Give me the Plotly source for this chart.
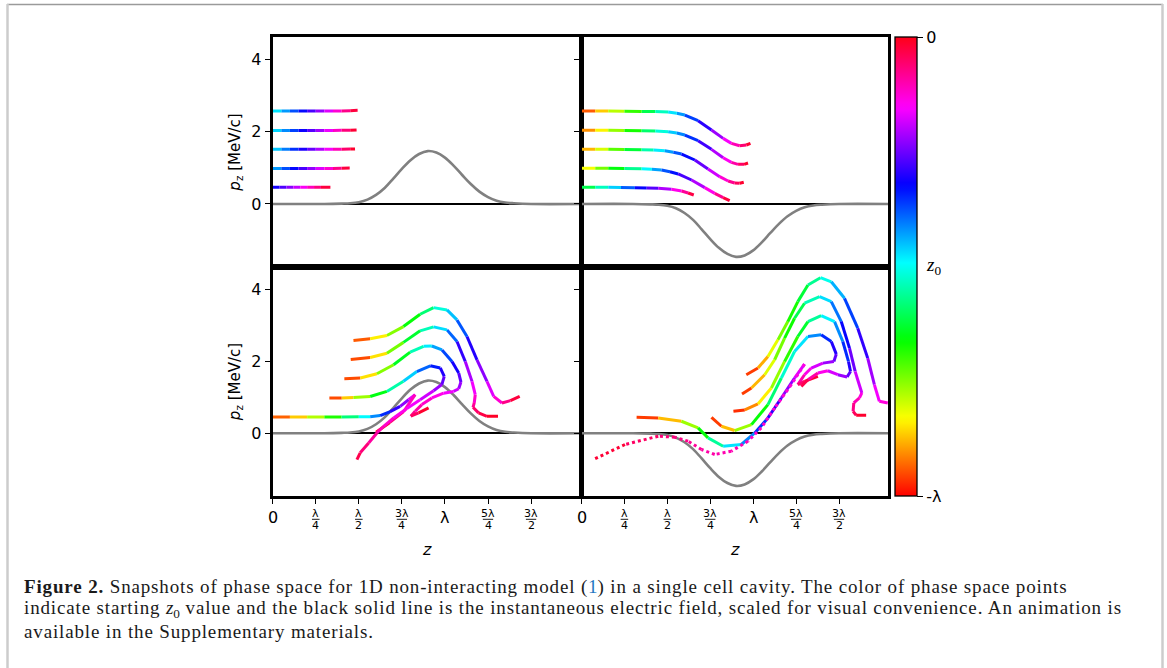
import plotly.graph_objects as go

W, H = 1167, 668

# ---------------- data (x in units of lambda, p_z in MeV/c, c = z0/lambda + 1) -------------
FIELD_X = [0.0, 0.3, 0.4, 0.45, 0.5, 0.55, 0.6, 0.65, 0.7, 0.75, 0.8, 0.85, 0.9, 0.95,
           1.0, 1.05, 1.1, 1.15, 1.2, 1.25, 1.3, 1.35, 1.4, 1.5, 1.79]
FIELD_E = [0.0, 0.0, 0.01, 0.02, 0.05, 0.12, 0.25, 0.44, 0.70, 0.97, 1.21, 1.38, 1.46, 1.42,
           1.28, 1.06, 0.80, 0.55, 0.34, 0.19, 0.09, 0.04, 0.02, 0.0, 0.0]
FIELD_SIGN = [1, -1, 1, -1]   # TL, TR, BL, BR

TL_046 = [(0, 0.46, 0.67), (0.04, 0.46, 0.71), (0.08, 0.46, 0.75), (0.12, 0.46, 0.79),
          (0.16, 0.46, 0.83), (0.2, 0.46, 0.87), (0.24, 0.46, 0.91), (0.28, 0.46, 0.95),
          (0.335, 0.46, 1.0)]
TL_098 = [(0, 0.98, 0.55), (0.05, 0.98, 0.6), (0.1, 0.98, 0.65), (0.15, 0.98, 0.7),
          (0.2, 0.98, 0.75), (0.25, 0.98, 0.8), (0.3, 0.98, 0.85), (0.35, 0.982, 0.9),
          (0.4, 0.985, 0.95), (0.447, 0.99, 1.0)]
TL_151 = [(0, 1.51, 0.52), (0.05, 1.51, 0.57), (0.1, 1.51, 0.62), (0.15, 1.51, 0.67),
          (0.2, 1.51, 0.72), (0.25, 1.51, 0.77), (0.3, 1.51, 0.82), (0.35, 1.51, 0.87),
          (0.4, 1.513, 0.92), (0.45, 1.516, 0.97), (0.478, 1.52, 1.0)]
TL_203 = [(0, 2.03, 0.51), (0.05, 2.03, 0.56), (0.1, 2.03, 0.61), (0.15, 2.03, 0.66),
          (0.2, 2.03, 0.71), (0.25, 2.03, 0.76), (0.3, 2.03, 0.81), (0.35, 2.03, 0.86),
          (0.4, 2.033, 0.91), (0.45, 2.038, 0.96), (0.487, 2.045, 1.0)]
TL_257 = [(0, 2.565, 0.5), (0.05, 2.565, 0.55), (0.1, 2.565, 0.6), (0.15, 2.565, 0.65),
          (0.2, 2.565, 0.7), (0.25, 2.565, 0.75), (0.3, 2.565, 0.8), (0.35, 2.566, 0.85),
          (0.4, 2.568, 0.9), (0.45, 2.574, 0.95), (0.493, 2.585, 1.0)]

TR_046 = [(0, 0.46, 0.35), (0.08, 0.46, 0.43), (0.156, 0.46, 0.5), (0.23, 0.458, 0.58),
          (0.311, 0.451, 0.65), (0.38, 0.444, 0.71), (0.447, 0.433, 0.76), (0.524, 0.405, 0.83),
          (0.583, 0.359, 0.89), (0.621, 0.304, 0.94), (0.654, 0.249, 1.0)]
TR_098 = [(0, 0.984, 0.13), (0.08, 0.984, 0.22), (0.156, 0.984, 0.3), (0.25, 0.982, 0.39),
          (0.35, 0.975, 0.48), (0.41, 0.96, 0.54), (0.466, 0.938, 0.6), (0.515, 0.89, 0.645),
          (0.563, 0.828, 0.69), (0.641, 0.662, 0.76), (0.718, 0.451, 0.83), (0.776, 0.294, 0.89),
          (0.825, 0.175, 0.95), (0.863, 0.092, 1.0)]
TR_151 = [(0, 1.508, 0.08), (0.08, 1.508, 0.16), (0.156, 1.508, 0.23), (0.25, 1.505, 0.33),
          (0.35, 1.499, 0.42), (0.42, 1.49, 0.49), (0.485, 1.471, 0.55), (0.535, 1.43, 0.6),
          (0.583, 1.379, 0.64), (0.66, 1.214, 0.71), (0.737, 0.966, 0.78), (0.805, 0.754, 0.85),
          (0.854, 0.635, 0.9), (0.892, 0.58, 0.94), (0.921, 0.57, 0.97), (0.945, 0.598, 1.0)]
TR_203 = [(0, 2.033, 0.06), (0.08, 2.033, 0.13), (0.156, 2.033, 0.2), (0.25, 2.03, 0.28),
          (0.35, 2.023, 0.37), (0.43, 2.013, 0.45), (0.505, 1.995, 0.52), (0.555, 1.96, 0.565),
          (0.602, 1.903, 0.61), (0.679, 1.747, 0.68), (0.757, 1.508, 0.76), (0.825, 1.278, 0.83),
          (0.873, 1.149, 0.88), (0.912, 1.094, 0.93), (0.947, 1.094, 0.97), (0.97, 1.131, 1.0)]
TR_257 = [(0, 2.566, 0.02), (0.08, 2.566, 0.1), (0.156, 2.566, 0.17), (0.25, 2.563, 0.26),
          (0.35, 2.556, 0.35), (0.43, 2.55, 0.43), (0.505, 2.538, 0.5), (0.555, 2.505, 0.55),
          (0.602, 2.455, 0.6), (0.679, 2.299, 0.67), (0.757, 2.041, 0.74), (0.825, 1.811, 0.82),
          (0.873, 1.674, 0.87), (0.921, 1.609, 0.92), (0.96, 1.628, 0.96), (0.984, 1.674, 1.0)]

BL_046 = [(0, 0.45, 0.03), (0.1, 0.45, 0.1), (0.2, 0.45, 0.17), (0.3, 0.45, 0.27), (0.4, 0.45, 0.37),
          (0.5, 0.455, 0.47), (0.566, 0.46, 0.55), (0.624, 0.49, 0.62), (0.682, 0.6, 0.68),
          (0.74, 0.747, 0.74), (0.789, 0.93, 0.8), (0.827, 1.07, 0.86), (0.76, 0.6, 0.92),
          (0.68, 0.3, 0.96), (0.60, 0.03, 1.0)]
BL_098 = [(0.329, 0.978, 0.0), (0.40, 0.98, 0.1), (0.469, 0.99, 0.17), (0.566, 1.02, 0.3),
          (0.663, 1.16, 0.4), (0.759, 1.44, 0.5), (0.837, 1.71, 0.58), (0.915, 1.87, 0.64),
          (0.973, 1.81, 0.68), (0.996, 1.577, 0.72), (0.982, 1.35, 0.76), (0.934, 1.18, 0.8),
          (0.856, 0.93, 0.83), (0.779, 0.684, 0.85), (0.702, 0.424, 0.87), (0.644, 0.193, 0.89),
          (0.605, 0.008, 0.9), (0.557, -0.27, 0.92), (0.508, -0.543, 0.95), (0.489, -0.73, 0.98)]
BL_151 = [(0.416, 1.51, 0.0), (0.509, 1.53, 0.1), (0.605, 1.65, 0.2), (0.702, 1.90, 0.3),
          (0.798, 2.25, 0.42), (0.876, 2.41, 0.5), (0.924, 2.42, 0.54), (0.983, 2.31, 0.6),
          (1.041, 1.99, 0.66), (1.08, 1.67, 0.72), (1.093, 1.42, 0.76), (1.08, 1.235, 0.8),
          (1.05, 1.16, 0.83), (0.992, 1.11, 0.85), (0.924, 0.98, 0.87), (0.866, 0.794, 0.89),
          (0.827, 0.61, 0.91), (0.802, 0.473, 0.93), (0.847, 0.565, 0.97), (0.905, 0.703, 1.0)]
BL_203 = [(0.453, 2.046, 0.0), (0.566, 2.10, 0.1), (0.663, 2.22, 0.2), (0.759, 2.52, 0.32),
          (0.856, 2.84, 0.42), (0.934, 2.95, 0.5), (1.012, 2.867, 0.56), (1.07, 2.544, 0.66),
          (1.118, 1.99, 0.76), (1.157, 1.438, 0.82), (1.176, 1.07, 0.86), (1.17, 0.84, 0.9),
          (1.163, 0.719, 0.93), (1.195, 0.564, 0.96), (1.244, 0.47, 0.98), (1.308, 0.47, 1.0)]
BL_257 = [(0.469, 2.571, 0.0), (0.566, 2.618, 0.12), (0.663, 2.71, 0.2), (0.759, 2.958, 0.3),
          (0.856, 3.30, 0.38), (0.934, 3.484, 0.45), (1.012, 3.42, 0.52), (1.07, 3.143, 0.58),
          (1.128, 2.682, 0.66), (1.186, 2.037, 0.74), (1.244, 1.438, 0.8), (1.283, 1.023, 0.85),
          (1.331, 0.84, 0.9), (1.38, 0.904, 0.95), (1.434, 1.023, 1.0)]

BR_046 = [(0.321, 0.443, 0.0), (0.447, 0.425, 0.08), (0.582, 0.333, 0.17), (0.679, 0.148, 0.3),
          (0.737, -0.128, 0.38), (0.825, -0.359, 0.5), (0.931, -0.312, 0.55), (1.009, 0.01, 0.62),
          (1.086, 0.425, 0.67), (1.164, 0.978, 0.74), (1.241, 1.531, 0.8), (1.299, 1.918, 0.85)]
BR_098 = [(0.757, 0.443, 0.0), (0.815, 0.194, 0.08), (0.892, 0.075, 0.17), (0.99, 0.24, 0.3),
          (1.086, 0.793, 0.38), (1.164, 1.531, 0.45), (1.241, 2.268, 0.5), (1.319, 2.683, 0.55),
          (1.396, 2.729, 0.62), (1.455, 2.544, 0.68), (1.484, 2.194, 0.72), (1.47, 1.991, 0.76),
          (1.406, 1.945, 0.8), (1.338, 1.808, 0.84), (1.299, 1.623, 0.88), (1.26, 1.346, 0.92),
          (1.299, 1.439, 0.96), (1.377, 1.577, 1.0)]
BR_151 = [(0.885, 0.609, 0.0), (0.951, 0.646, 0.06), (1.028, 0.812, 0.12), (1.106, 1.254, 0.2),
          (1.183, 1.991, 0.28), (1.26, 2.683, 0.34), (1.319, 3.097, 0.4), (1.396, 3.263, 0.48),
          (1.474, 3.097, 0.55), (1.522, 2.544, 0.62), (1.555, 1.991, 0.68), (1.567, 1.714, 0.72),
          (1.547, 1.558, 0.76), (1.493, 1.623, 0.8), (1.435, 1.733, 0.84), (1.377, 1.669, 0.88),
          (1.319, 1.485, 0.93), (1.28, 1.30, 1.0)]
BR_203 = [(0.935, 1.089, 0.0), (0.99, 1.255, 0.08), (1.067, 1.623, 0.16), (1.125, 2.038, 0.22),
          (1.183, 2.637, 0.3), (1.241, 3.19, 0.36), (1.299, 3.605, 0.42), (1.387, 3.788, 0.5),
          (1.455, 3.65, 0.56), (1.513, 3.097, 0.64), (1.561, 2.361, 0.72), (1.594, 1.714, 0.78),
          (1.633, 1.117, 0.85), (1.619, 0.979, 0.88), (1.586, 0.84, 0.91), (1.582, 0.608, 0.94),
          (1.6, 0.498, 0.97), (1.658, 0.498, 1.0)]
BR_257 = [(0.96, 1.623, 0.0), (1.028, 1.808, 0.08), (1.086, 2.129, 0.15), (1.144, 2.59, 0.22),
          (1.202, 3.097, 0.3), (1.26, 3.65, 0.35), (1.319, 4.11, 0.4), (1.392, 4.313, 0.47),
          (1.455, 4.20, 0.52), (1.532, 3.743, 0.6), (1.609, 2.914, 0.67), (1.667, 2.084, 0.75),
          (1.706, 1.346, 0.82), (1.735, 0.885, 0.86), (1.784, 0.84, 0.88)]
BR_DOT = [(1.299, 1.918, 0.86), (1.222, 1.346, 0.87), (1.125, 0.701, 0.88), (1.047, 0.148, 0.88),
          (0.97, -0.22, 0.89), (0.873, -0.497, 0.9), (0.776, -0.589, 0.9), (0.699, -0.451, 0.91),
          (0.621, -0.22, 0.92), (0.544, -0.11, 0.93), (0.447, -0.082, 0.94), (0.253, -0.312, 0.96),
          (0.078, -0.709, 1.0)]

PANELS = [
    ("x", "y", [TL_046, TL_098, TL_151, TL_203, TL_257], []),
    ("x2", "y2", [TR_046, TR_098, TR_151, TR_203, TR_257], []),
    ("x3", "y3", [BL_046, BL_098, BL_151, BL_203, BL_257], []),
    ("x4", "y4", [BR_046, BR_098, BR_151, BR_203, BR_257], [BR_DOT]),
]

XTICK_VALS = [0, 0.25, 0.5, 0.75, 1.0, 1.25, 1.5]
XTICK_NUM = ["0", "λ", "λ", "3λ", "λ", "5λ", "3λ"]
XTICK_DEN = ["", "4", "2", "4", "", "4", "2"]

# ---------------- colour map (matplotlib 'hsv') ----------------
HSV = [(0.0, (255, 0, 0)), (0.158730, (255, 239, 0)), (0.174603, (247, 255, 0)),
       (0.333333, (8, 255, 0)), (0.349206, (0, 255, 16)), (0.507937, (0, 255, 255)),
       (0.666667, (0, 16, 255)), (0.682540, (8, 0, 255)), (0.841270, (247, 0, 255)),
       (0.857143, (255, 0, 239)), (1.0, (255, 0, 24))]
COLORSCALE = [[s, "rgb(%d,%d,%d)" % c] for s, c in HSV]


def cmap(v):
    v = min(max(v, 0.0), 1.0)
    for (s0, c0), (s1, c1) in zip(HSV[:-1], HSV[1:]):
        if v <= s1:
            t = 0 if s1 == s0 else (v - s0) / (s1 - s0)
            return "rgb(%d,%d,%d)" % tuple(round(a + (b - a) * t) for a, b in zip(c0, c1))
    return "rgb(255,0,24)"


fig = go.Figure()

# field curves
for (xa, ya, _, _), sgn in zip(PANELS, FIELD_SIGN):
    fig.add_trace(go.Scatter(x=FIELD_X, y=[sgn * e for e in FIELD_E], mode="lines",
                             line=dict(color="#808080", width=2.6, shape="spline"),
                             xaxis=xa, yaxis=ya, hoverinfo="skip", showlegend=False))


def add_gradient(curves, xa, ya, dash="solid", width=3.0):
    groups = {}
    for pts in curves:
        for a, b in zip(pts[:-1], pts[1:]):
            col = cmap((a[2] + b[2]) / 2)
            gx, gy = groups.setdefault(col, ([], []))
            gx += [a[0], b[0], None]
            gy += [a[1], b[1], None]
    for col, (gx, gy) in groups.items():
        fig.add_trace(go.Scatter(x=gx, y=gy, mode="lines",
                                 line=dict(color=col, width=width, dash=dash),
                                 xaxis=xa, yaxis=ya, hoverinfo="skip", showlegend=False))


for xa, ya, curves, dotted in PANELS:
    add_gradient(curves, xa, ya)
    if dotted:
        add_gradient(dotted, xa, ya, dash="dot", width=3)

# colorbar carrier
fig.add_trace(go.Scatter(
    x=[-5], y=[-5], mode="markers", xaxis="x", yaxis="y", showlegend=False, hoverinfo="skip",
    marker=dict(color=[0], cmin=-1, cmax=0, colorscale=COLORSCALE, showscale=True,
                colorbar=dict(x=895 / W, xanchor="left", y=1 - 266.5 / H, yanchor="middle",
                              len=459 / H, lenmode="fraction", thickness=22, xpad=0, ypad=0,
                              outlinecolor="black", outlinewidth=1.3,
                              tickvals=[-1, 0], ticktext=["-λ", "0"], ticks="outside",
                              ticklen=6, tickwidth=1.2, tickcolor="black",
                              tickfont=dict(family="DejaVu Sans", size=16, color="black")))))

# axes
XL = [272.7 / W, 580.5 / W]
XR = [581.5 / W, 888.3 / W]
YT = [1 - 267 / H, 1 - 37 / H]
YB = [1 - 496 / H, 1 - 267 / H]
XRANGE = [0, 1.787]
YRANGE = [-1.74, 4.61]

common_x = dict(range=XRANGE, showgrid=False, zeroline=False, showline=True, mirror=True,
                linecolor="black", linewidth=3)
common_y = dict(range=YRANGE, showgrid=False, zeroline=True, zerolinecolor="black",
                zerolinewidth=1.6, showline=True, mirror=True, linecolor="black", linewidth=3,
                tickvals=[0, 2, 4], ticks="outside", ticklen=5, tickwidth=1.2, tickcolor="black",
                tickfont=dict(family="DejaVu Sans", size=16, color="black"))
ytitle = dict(text="<i>p</i><sub>z</sub> [MeV/c]", font=dict(family="DejaVu Sans", size=15,
                                                            color="black"), standoff=8)

fig.update_layout(
    xaxis=dict(domain=XL, anchor="y", ticks="", showticklabels=False, **common_x),
    xaxis2=dict(domain=XR, anchor="y2", ticks="", showticklabels=False, **common_x),
    xaxis3=dict(domain=XL, anchor="y3", tickvals=XTICK_VALS, ticks="outside", ticklen=5,
                tickwidth=1.2, tickcolor="black", showticklabels=False, **common_x),
    xaxis4=dict(domain=XR, anchor="y4", tickvals=XTICK_VALS, ticks="outside", ticklen=5,
                tickwidth=1.2, tickcolor="black", showticklabels=False, **common_x),
    yaxis=dict(domain=YT, anchor="x", title=ytitle, **common_y),
    yaxis2=dict(domain=YT, anchor="x2", showticklabels=False, **common_y),
    yaxis3=dict(domain=YB, anchor="x3", title=ytitle, **common_y),
    yaxis4=dict(domain=YB, anchor="x4", showticklabels=False, **common_y),
    width=W, height=H, margin=dict(l=0, r=0, t=0, b=0),
    paper_bgcolor="white", plot_bgcolor="white", showlegend=False,
)

ann = []
shapes = []
for xa in ["x3", "x4"]:
    for v, num, den in zip(XTICK_VALS, XTICK_NUM, XTICK_DEN):
        if den:
            ann.append(dict(x=v, y=1 - 513 / H, xref=xa, yref="paper", text=num,
                            xanchor="center", yanchor="middle", showarrow=False,
                            font=dict(family="DejaVu Sans", size=11, color="black")))
            ann.append(dict(x=v, y=1 - 525.5 / H, xref=xa, yref="paper", text=den,
                            xanchor="center", yanchor="middle", showarrow=False,
                            font=dict(family="DejaVu Sans", size=11, color="black")))
            hw = 0.030 if len(num) > 1 else 0.022
            shapes.append(dict(type="line", xref=xa, yref="paper", x0=v - hw, x1=v + hw,
                               y0=1 - 519.3 / H, y1=1 - 519.3 / H,
                               line=dict(color="black", width=0.9)))
        else:
            ann.append(dict(x=v, y=1 - 517.5 / H, xref=xa, yref="paper", text=num,
                            xanchor="center", yanchor="middle", showarrow=False,
                            font=dict(family="DejaVu Sans", size=16, color="black")))
    ann.append(dict(x=0.8935, y=1 - 549 / H, xref=xa, yref="paper", text="<i>z</i>",
                    xanchor="center", yanchor="middle", showarrow=False,
                    font=dict(family="DejaVu Sans", size=16, color="black")))

# colorbar label
ann.append(dict(x=924 / W, y=1 - 266 / H, xref="paper", yref="paper", xanchor="left",
                yanchor="middle", text="<i>z</i><sub>0</sub>", showarrow=False,
                font=dict(family="Liberation Serif", size=19, color="black")))

# caption
LS = "<span style='letter-spacing:0.85px'>"
CAPTION = [
    LS + "<b>Figure 2.</b> Snapshots of phase space for 1D non-interacting model (</span>"
    "<span style='color:#1f78c1'>1</span>" + LS +
    ") in a single cell cavity. The color of phase space points</span>",
    LS + "indicate starting </span><i>z</i><sub>0</sub>" + LS +
    " value and the black solid line is the instantaneous "
    "electric field, scaled for visual convenience. An animation is</span>",
    LS + "available in the Supplementary materials.</span>",
]
for i, line in enumerate(CAPTION):
    ann.append(dict(x=22 / W, y=1 - (587 + 22 * i) / H, xref="paper", yref="paper",
                    xanchor="left", yanchor="middle", text=line, showarrow=False,
                    font=dict(family="Liberation Serif", size=19, color="#1a1a1a")))

# page frame
shapes += [
    dict(type="line", xref="paper", yref="paper", x0=7 / W, x1=1163 / W, y0=1 - 4.5 / H,
         y1=1 - 4.5 / H, line=dict(color="#9a9a9a", width=1.5)),
    dict(type="line", xref="paper", yref="paper", x0=7.5 / W, x1=7.5 / W, y0=0, y1=1 - 4 / H,
         line=dict(color="#cccccc", width=2.5)),
    dict(type="line", xref="paper", yref="paper", x0=1162.5 / W, x1=1162.5 / W, y0=0,
         y1=1 - 4 / H, line=dict(color="#cccccc", width=2.5)),
]

fig.update_layout(annotations=ann, shapes=shapes)
fig.write_html("out.html")
